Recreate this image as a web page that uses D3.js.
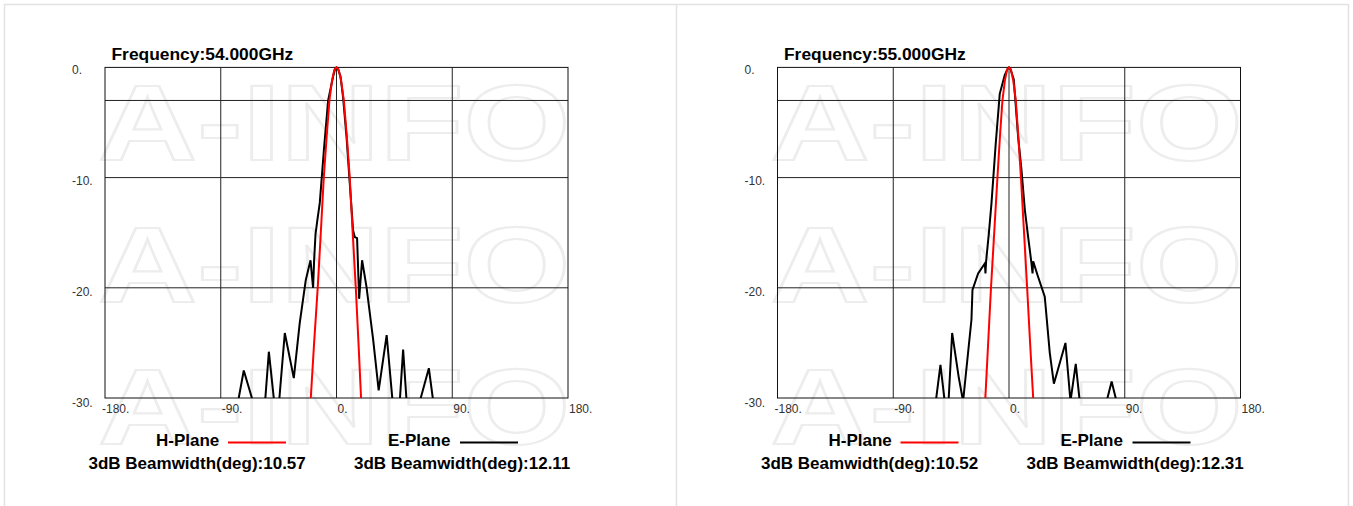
<!DOCTYPE html>
<html>
<head>
<meta charset="utf-8">
<script src="https://cdn.jsdelivr.net/npm/d3@7"></script>
<style>
  body { margin: 0; background: #fff; }
  svg { display: block; font-family: "Liberation Sans", Arial, sans-serif; }
</style>
</head>
<body>
<div id="chart"></div>
<script>
// panel titles / legend numbers
let freqs   = ['54.000', '55.000'];
let hBeam   = ['10.57', '10.52'];
let eBeam   = ['12.11', '12.31'];

// axis ticks
let xTicks  = [-180, -90, 0, 90, 180];
let yTicks  = [0, -10, -20, -30];
let xGrid   = [-90, 0, 90];
let yGrid   = [-3, -10, -20];

// 54 GHz H-plane (red)
let h54Deg = [-24, -20.0, -17.4, -14.6, -12.2, -9.9, -7.6, -5.5, -3.5, -1.6, 0, 1.6, 3.6, 5.7, 8, 10.3, 12.6, 15.0, 17.1, 19.1, 23];
let h54dB  = [-38, -30, -25, -20, -15, -10, -6.2, -3, -1.2, -0.2, 0, -0.2, -1.2, -3, -6.2, -10, -15, -20, -25, -30, -38];
// 54 GHz E-plane (black)
let e54Deg = [-180, -80, -76.5, -72.1, -65, -60, -55.5, -52.6, -48.5, -46.5, -44.6, -40.2, -33.2, -28.6, -23.9, -20.2, -18.2, -17.4, -16.3, -14.8, -13.0, -9.6, -6.5, -2.6, -1, 0,
              1, 3.1, 5.1, 7.8, 10.3, 12.9, 14.2, 16.0, 17.6, 19.9, 23.3, 28.5, 32.8, 39.0, 43.6, 46.5, 49.2, 51.8, 54.5, 60, 64.8, 71.8, 75.2, 80, 180];
let e54dB  = [-40, -36, -30.3, -27.5, -30.3, -35, -30.3, -25.8, -30.3, -34, -30.3, -24.1, -28.2, -23.2, -19.3, -17.5, -20.0, -17.5, -15.1, -13.8, -12.3, -7.2, -3.0, -0.8, -0.1, 0,
              -0.1, -0.8, -2.7, -6.3, -10.5, -14.8, -15.4, -15.5, -21.0, -17.5, -19.9, -24.7, -29.3, -24.3, -30.3, -34, -30.3, -25.6, -30.3, -35, -30.3, -27.3, -30.3, -36, -40];

// 55 GHz H-plane (red)
let h55Deg = [-22, -18.4, -16.2, -14.0, -11.5, -9.0, -7.0, -5.1, -3.2, -1.5, 0, 1.5, 3.3, 5.3, 7.2, 9.3, 11.7, 14.1, 16.4, 18.8, 22.5];
let h55dB  = [-37, -30, -25, -20, -15, -10, -6.2, -3, -1.2, -0.2, 0, -0.2, -1.2, -3, -6.2, -10, -15, -20, -25, -30, -37];
// 55 GHz E-plane (black)
let e55Deg = [-180, -62, -56.9, -53.3, -50.0, -48.5, -47, -44.2, -39.1, -35.7, -29.2, -28.4, -24.0, -18.8, -18.3, -17.8, -15.7, -13.6, -10.3, -7.2, -3.3, -1, 0,
              1, 3.7, 7.1, 9.7, 12.3, 14.9, 17.5, 18.3, 18.8, 22.6, 27.8, 31.7, 34.9, 43.9, 47.8, 51.9, 55.0, 65, 75.9, 79.8, 83.6, 90, 180];
let e55dB  = [-40, -36, -30.3, -27.0, -30.3, -32, -30.3, -24.1, -28.1, -30.3, -22.9, -20.2, -18.7, -17.8, -18.7, -17.6, -15.1, -12.3, -6.9, -2.4, -0.7, -0.1, 0,
              -0.1, -1.1, -6.3, -9.3, -12.9, -15.4, -17.8, -18.7, -17.6, -19.0, -20.8, -25.9, -28.7, -25.0, -30.3, -26.9, -30.3, -36, -30.3, -28.5, -30.3, -36, -40];

let panels = [
    {freq: freqs[0], hb: hBeam[0], eb: eBeam[0], h: d3.zip(h54Deg, h54dB), e: d3.zip(e54Deg, e54dB)},
    {freq: freqs[1], hb: hBeam[1], eb: eBeam[1], h: d3.zip(h55Deg, h55dB), e: d3.zip(e55Deg, e55dB)},
];

let w = 1353, h = 506;
let svg = d3.select('#chart').append('svg').attr('width', w).attr('height', h);

// outer light frame + divider
svg.append('rect').attr('x', 4.5).attr('y', 4.5).attr('width', 1344).attr('height', 510)
    .attr('fill', 'none').attr('stroke', '#e2e2e2').attr('stroke-width', 1.5);
svg.append('line').attr('x1', 676.5).attr('x2', 676.5).attr('y1', 4).attr('y2', h)
    .attr('stroke', '#e2e2e2').attr('stroke-width', 1.5);

let x = d3.scaleLinear().domain([-180, 180]).range([105, 568]);
let y = d3.scaleLinear().domain([-30, 0]).range([398, 67.4]);

let line = d3.line().x(d => x(d[0])).y(d => y(d[1]));

svg.append('clipPath').attr('id', 'plotclip')
  .append('rect').attr('x', x(-180)).attr('y', y(0) - 2).attr('width', x(180) - x(-180)).attr('height', y(-30) - y(0) + 2);

panels.forEach((p, i) => {
    let g = svg.append('g').attr('transform', 'translate(' + (i * 672.5) + ',0)');

    // watermark
    [160, 302, 444].forEach(by => {
        g.append('text').attr('x', 98).attr('y', by)
            .attr('font-size', 107.5).attr('font-weight', 'bold')
            .attr('textLength', 472).attr('lengthAdjust', 'spacingAndGlyphs')
            .attr('fill', 'none').attr('stroke', '#ededed').attr('stroke-width', 2.2)
            .text('A-INFO');
    });

    // grid
    g.selectAll('line.gx').data(xGrid).enter().append('line')
        .attr('x1', d => x(d)).attr('x2', d => x(d)).attr('y1', y(0)).attr('y2', y(-30))
        .attr('stroke', '#222').attr('stroke-width', 1);
    g.selectAll('line.gy').data(yGrid).enter().append('line')
        .attr('x1', x(-180)).attr('x2', x(180)).attr('y1', d => y(d)).attr('y2', d => y(d))
        .attr('stroke', '#222').attr('stroke-width', 1);
    g.append('rect').attr('x', x(-180)).attr('y', y(0)).attr('width', x(180) - x(-180)).attr('height', y(-30) - y(0))
        .attr('fill', 'none').attr('stroke', '#111').attr('stroke-width', 1);

    // tick labels
    g.selectAll('text.yt').data(yTicks).enter().append('text')
        .attr('x', 72).attr('y', d => y(d) + 7 - d * 2 / 30)
        .attr('font-size', 12).attr('fill', '#333').text(d => d + '.');
    g.selectAll('text.xt').data(xTicks).enter().append('text')
        .attr('x', d => x(d) - (d == -180 ? 3 : -1)).attr('y', 413)
        .attr('font-size', 12).attr('fill', '#333').text(d => d + '.');

    // curves
    let cg = g.append('g').attr('clip-path', 'url(#plotclip)');
    cg.append('path').attr('d', line(p.e)).attr('fill', 'none').attr('stroke', '#000').attr('stroke-width', 2);
    cg.append('path').attr('d', line(p.h)).attr('fill', 'none').attr('stroke', '#ff0000').attr('stroke-width', 2);

    // title
    g.append('text').attr('x', 111.5).attr('y', 60).attr('font-size', 17.4).attr('font-weight', 'bold')
        .attr('fill', '#000').text('Frequency:' + p.freq + 'GHz');

    // legend
    let lg = g.append('g').attr('font-size', 17).attr('font-weight', 'bold').attr('fill', '#000');
    lg.append('text').attr('x', 156).attr('y', 445.5).text('H-Plane');
    g.append('line').attr('x1', 228).attr('x2', 286).attr('y1', 442.5).attr('y2', 442.5).attr('stroke', '#ff0000').attr('stroke-width', 2);
    lg.append('text').attr('x', 388).attr('y', 445.5).text('E-Plane');
    g.append('line').attr('x1', 460).attr('x2', 518).attr('y1', 442.5).attr('y2', 442.5).attr('stroke', '#000').attr('stroke-width', 2);
    lg.append('text').attr('x', 88.5).attr('y', 469).text('3dB Beamwidth(deg):' + p.hb);
    lg.append('text').attr('x', 354).attr('y', 469).text('3dB Beamwidth(deg):' + p.eb);
});
</script>
</body>
</html>
